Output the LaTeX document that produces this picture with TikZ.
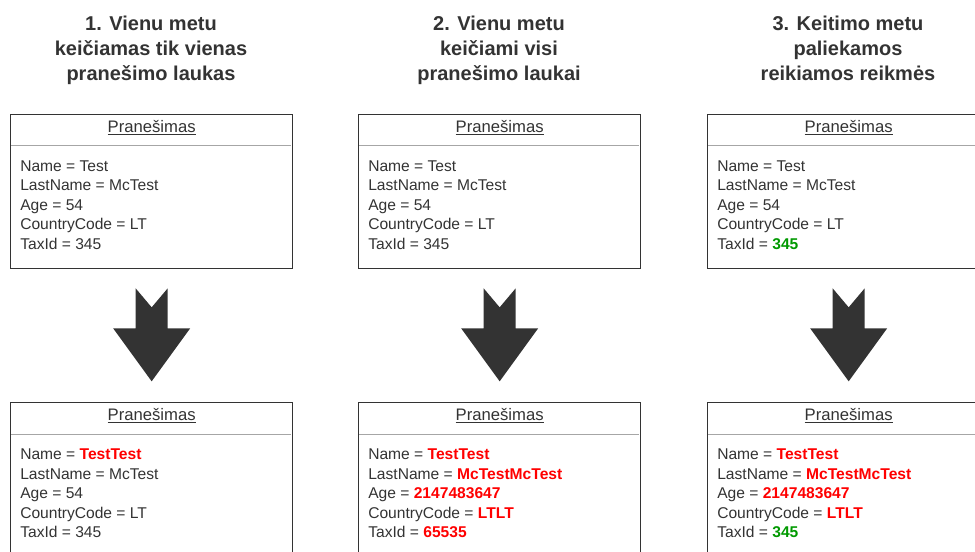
\documentclass[tikz,border=0pt]{standalone}
\usepackage{fontspec}
\setmainfont{Liberation Sans}
\usetikzlibrary{calc}
\definecolor{ink}{HTML}{333333}
\definecolor{sepc}{HTML}{A6A6A6}
\definecolor{redv}{HTML}{FF0000}
\definecolor{grnv}{HTML}{009900}
\newcommand\redval[1]{\textcolor{redv}{\bfseries #1}}
\newcommand\grnval[1]{\textcolor{grnv}{\bfseries #1}}
\newcommand\fieldset[6]{%
  \node[fld] (#1n) at ($(#1.north west)+(10,57.5)$) {Name = #2};
  \node[fld] (#1l) at ($(#1.north west)+(10,77)$) {LastName = #3};
  \node[fld] (#1a) at ($(#1.north west)+(10,96.5)$) {Age = #4};
  \node[fld] (#1c) at ($(#1.north west)+(10,116)$) {CountryCode = #5};
  \node[fld] (#1x) at ($(#1.north west)+(10,135.5)$) {TaxId = #6};
}
\begin{document}
\begin{tikzpicture}[x=0.75pt,y=-0.75pt,
  title/.style={anchor=base, inner sep=0, text=ink, font=\fontsize{15pt}{18pt}\selectfont\bfseries},
  msgbox/.style={draw=ink, line width=1pt, anchor=north west, minimum width=211.5pt, minimum height=115.5pt, inner sep=0},
  hdr/.style={anchor=base, inner sep=0, text=ink, font=\fontsize{12.5pt}{14pt}\selectfont},
  fld/.style={anchor=base west, inner sep=0, text=ink, font=\fontsize{11.7pt}{14pt}\selectfont},
  sepline/.style={draw=sepc, line width=0.75pt},
  bigarrow/.style={fill=ink}]
\useasboundingbox (0,0) rectangle (975,552);

% titles
\node[title] (h1a) at (151,31) {1. Vienu metu};
\node[title] (h1b) at (151,56) {keičiamas tik vienas};
\node[title] (h1c) at (151,81) {pranešimo laukas};
\node[title] (h2a) at (499,31) {2. Vienu metu};
\node[title] (h2b) at (499,56) {keičiami visi};
\node[title] (h2c) at (499,81) {pranešimo laukai};
\node[title] (h3a) at (848,31) {3. Keitimo metu};
\node[title] (h3b) at (848,56) {paliekamos};
\node[title] (h3c) at (848,81) {reikiamos reikmės};

\foreach \i/\x in {1/10,2/358,3/707} {
  \draw[sepline] (\x+0.7,146) -- (\x+281.3,146);
  \draw[sepline] (\x+0.7,434) -- (\x+281.3,434);
  \node[msgbox] (t\i) at (\x,114) {};
  \node[msgbox] (b\i) at (\x,402) {};
  \node[hdr] (th\i) at ($(t\i.north)+(0,18.5)$) {\underline{Pranešimas}};
  \node[hdr] (bh\i) at ($(b\i.north)+(0,18.5)$) {\underline{Pranešimas}};
  \fill[bigarrow] ($(t\i.south)+(-16,19)$) -- ++(16,19) -- ++(16,-19) -- ++(0,40)
     -- ++(22.5,0) -- ++(-38.5,53) -- ++(-38.5,-53) -- ++(22.5,0) -- cycle;
}

\fieldset{t1}{Test}{McTest}{54}{LT}{345}
\fieldset{t2}{Test}{McTest}{54}{LT}{345}
\fieldset{t3}{Test}{McTest}{54}{LT}{\grnval{345}}
\fieldset{b1}{\redval{TestTest}}{McTest}{54}{LT}{345}
\fieldset{b2}{\redval{TestTest}}{\redval{McTestMcTest}}{\redval{2147483647}}{\redval{LTLT}}{\redval{65535}}
\fieldset{b3}{\redval{TestTest}}{\redval{McTestMcTest}}{\redval{2147483647}}{\redval{LTLT}}{\grnval{345}}
\end{tikzpicture}
\end{document}
